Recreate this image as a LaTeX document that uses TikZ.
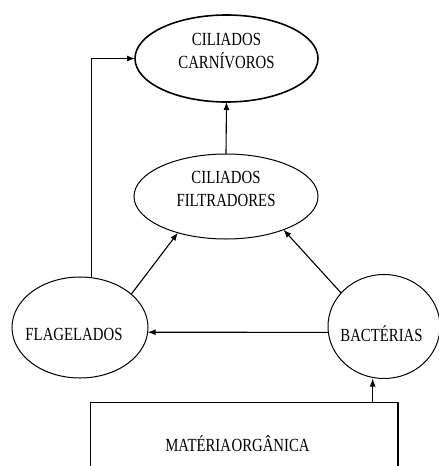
\documentclass[tikz,border=0pt]{standalone}
\usepackage{fontspec}
\setmainfont{Liberation Serif}[FakeStretch=0.8]
\usetikzlibrary{shapes.geometric,arrows.meta}
\begin{document}
\begin{tikzpicture}[x=1pt,y=-1pt,
  every node/.style={font=\fontsize{18.5}{22.4}\selectfont, inner sep=0pt, outer sep=0pt},
  oval/.style={draw, ellipse, line width=1pt},
  arr/.style={-{Latex[length=8pt,width=6pt]}, line width=1.1pt}]
\useasboundingbox (0,0) rectangle (439,466);
\clip (0,0) rectangle (439,466);
\node[oval, line width=1.6pt, minimum width=183, minimum height=87] (carn) at (226.5,58.5)
  {\raisebox{6pt}[\height][\depth]{\begin{tabular}{@{}c@{}}CILIADOS\\CARNÍVOROS\end{tabular}}};
\node[oval, minimum width=184, minimum height=85] (filt) at (226,196.5)
  {\raisebox{6pt}[\height][\depth]{\begin{tabular}{@{}c@{}}CILIADOS\\FILTRADORES\end{tabular}}};
\node[oval, minimum width=136, minimum height=101] (flag) at (80,327.5)
  {\raisebox{-6.5pt}[\height][\depth]{\makebox[0pt]{FLAGELADOS\hspace{12pt}}}};
\node[oval, minimum width=112, minimum height=104] (bact) at (384,326.5)
  {\raisebox{-7pt}[\height][\depth]{\makebox[0pt]{BACTÉRIAS\hspace{5pt}}}};
\node[draw, line width=1.3pt, minimum width=307.3, minimum height=81.6] (mat) at (244.3,443.5)
  {\makebox[0pt]{MATÉRIA\hspace{0.5pt}ORGÂNICA\hspace{13.6pt}}};
\draw[arr] (filt.north) -- (carn.south);
\draw[arr] (flag.77) |- (carn.west);
\draw[arr] (flag.33) -- (filt.217);
\draw[arr] (bact.142) -- (filt.330);
\draw[arr] (bact.186.7) -- (flag.-4.65);
\coordinate (matup) at ([xshift=-25.3pt]mat.north east);
\draw[arr] (matup) -- (matup |- bact.south);
\end{tikzpicture}
\end{document}
